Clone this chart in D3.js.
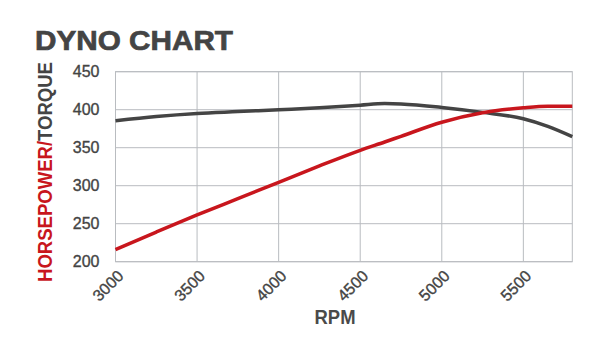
<!DOCTYPE html>
<html><head><meta charset="utf-8">
<script src="https://cdn.jsdelivr.net/npm/d3@7"></script>
<style>body{margin:0;background:#fff}svg{display:block}</style>
</head><body>
<svg id="c" width="615" height="354"></svg>
<script>
const rpm = [3000, 3250, 3500, 3750, 4000, 4250, 4500, 4650, 4750, 5000, 5250, 5500, 5650, 5800];
const horsepower = [216, 239, 261.5, 283, 304.5, 326, 346.5, 357.5, 365, 383.5, 396, 402.5, 404.5, 404.5];
const torque = [385.5, 391, 395, 397.5, 400, 402.5, 406, 408, 407.5, 403, 396.5, 388, 378, 364.5];
const xTicks = [3000, 3500, 4000, 4500, 5000, 5500];
const yTicks = [200, 250, 300, 350, 400, 450];

const svg = d3.select("#c");
const L = 115.5, R = 572.3, T = 71.7, B = 261.7;
const x = d3.scaleLinear().domain([3000, 5800]).range([L, R]);
const y = d3.scaleLinear().domain([200, 450]).range([B, T]);
const font = "'Liberation Sans', Arial, Helvetica, sans-serif";
const red = "#c8161d", dark = "#444444";

svg.append("text").attr("x", 35).attr("y", 49.5)
  .attr("font-family", font).attr("font-weight", "bold").attr("font-size", 28)
  .attr("fill", "#444").attr("stroke", "#444").attr("stroke-width", 0.7)
  .attr("textLength", 198).attr("lengthAdjust", "spacingAndGlyphs")
  .text("DYNO CHART");

// grid
const g = svg.append("g");
g.selectAll(".vg").data(xTicks).join("line")
  .attr("x1", d => x(d)).attr("x2", d => x(d)).attr("y1", T).attr("y2", B)
  .attr("stroke", "#b9bcc0").attr("stroke-width", 1);
g.selectAll(".hg").data(yTicks).join("line")
  .attr("x1", L).attr("x2", R).attr("y1", d => y(d)).attr("y2", d => y(d))
  .attr("stroke", "#b9bcc0").attr("stroke-width", 1);
g.append("rect").attr("x", L).attr("y", T).attr("width", R - L).attr("height", B - T)
  .attr("fill", "none").attr("stroke", "#b9bcc0").attr("stroke-width", 1);

// y tick labels
svg.selectAll(".yl").data(yTicks).join("text")
  .attr("x", 99.5).attr("y", d => y(d)).attr("dy", "0.36em")
  .attr("text-anchor", "end").attr("font-family", font).attr("font-size", 16)
  .attr("fill", "#444").attr("stroke", "#444").attr("stroke-width", 0.35).text(d => d);

// x tick labels
svg.selectAll(".xl").data(xTicks).join("text")
  .attr("transform", d => `translate(${x(d) + 9},277) rotate(-45)`)
  .attr("text-anchor", "end").attr("font-family", font).attr("font-size", 16)
  .attr("fill", "#444").attr("stroke", "#444").attr("stroke-width", 0.35).text(d => d);

// axis titles
svg.append("text").attr("x", 335).attr("y", 323.5).attr("text-anchor", "middle")
  .attr("font-family", font).attr("font-weight", "bold").attr("font-size", 20)
  .attr("fill", "#4a4a4a").attr("textLength", 41).attr("lengthAdjust", "spacingAndGlyphs")
  .text("RPM");

const yt = svg.append("text").attr("transform", "translate(52.3,282) rotate(-90)")
  .attr("font-family", font).attr("font-weight", "bold").attr("font-size", 20)
  .attr("textLength", 220).attr("lengthAdjust", "spacingAndGlyphs");
yt.append("tspan").attr("fill", red).text("HORSEPOWER/");
yt.append("tspan").attr("fill", dark).text("TORQUE");

// lines
const line = vals => d3.line().x((d, i) => x(rpm[i])).y(d => y(d)).curve(d3.curveMonotoneX)(vals);
svg.append("path").attr("d", line(torque)).attr("fill", "none")
  .attr("stroke", dark).attr("stroke-width", 3.5);
svg.append("path").attr("d", line(horsepower)).attr("fill", "none")
  .attr("stroke", red).attr("stroke-width", 3.5);
</script>
</body></html>
